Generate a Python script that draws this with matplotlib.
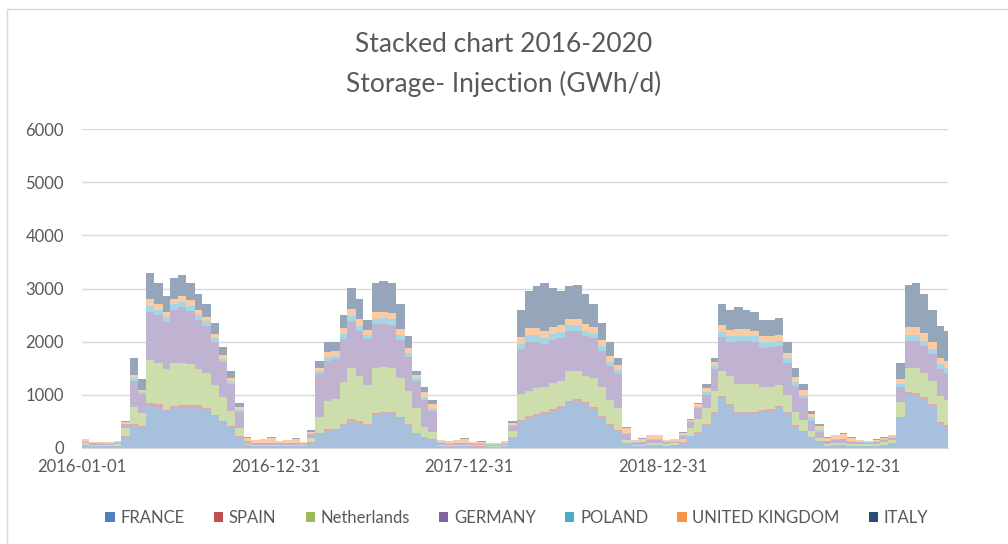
import numpy as np
import pandas as pd
import matplotlib
matplotlib.use("Agg")
import matplotlib.pyplot as plt
import matplotlib.dates as mdates
from matplotlib.patches import Patch, Rectangle

# ---- data: semi-monthly averages (GWh/d) ----
period_start = "2016-01-01"
period_last = "2020-06-15"
data_end = "2020-06-22"

series_names = ["FRANCE", "SPAIN", "Netherlands", "GERMANY", "POLAND",
                "UNITED KINGDOM", "ITALY"]

france = [45, 30, 30, 30, 40, 200, 420, 380, 800, 780, 680, 750, 760, 760, 760, 720, 600, 480, 380, 200, 40, 30, 30, 30,
          30, 30, 35, 30, 100, 260, 325, 330, 420, 510, 470, 420, 620, 650, 640, 560, 420, 260, 200, 150, 30, 25, 30, 30,
          25, 25, 20, 20, 30, 200, 500, 575, 610, 640, 700, 760, 860, 890, 830, 740, 575, 430, 325, 80, 30, 35, 50, 50,
          40, 45, 100, 220, 280, 430, 650, 940, 800, 650, 640, 640, 680, 700, 760, 640, 400, 300, 200, 120, 40, 50, 55, 40,
          40, 35, 40, 60, 80, 560, 1010, 1000, 920, 800, 450, 400]
spain = [5, 5, 5, 5, 5, 20, 30, 30, 40, 40, 30, 40, 40, 40, 40, 40, 30, 30, 25, 20, 10, 5, 5, 5,
         5, 5, 5, 5, 10, 20, 25, 25, 30, 30, 30, 30, 30, 30, 30, 30, 25, 20, 15, 15, 5, 5, 5, 5,
         5, 5, 5, 5, 5, 15, 30, 30, 30, 30, 30, 30, 30, 30, 30, 30, 25, 25, 20, 10, 5, 5, 5, 5,
         5, 5, 10, 15, 20, 25, 30, 30, 30, 30, 30, 30, 30, 30, 30, 30, 25, 20, 15, 10, 5, 5, 5, 5,
         5, 5, 5, 5, 10, 30, 40, 40, 40, 30, 30, 30]
netherlands = [45, 30, 25, 25, 30, 150, 330, 250, 820, 780, 780, 800, 800, 780, 680, 650, 560, 450, 300, 150, 30, 20, 20, 20,
               20, 20, 20, 20, 80, 295, 540, 560, 800, 970, 850, 730, 860, 840, 840, 730, 620, 480, 180, 130, 20, 20, 20, 20,
               20, 20, 15, 15, 20, 100, 480, 470, 480, 470, 500, 470, 560, 530, 500, 540, 540, 450, 415, 60, 20, 25, 35, 35,
               30, 35, 60, 150, 250, 300, 400, 470, 520, 520, 530, 530, 430, 420, 400, 330, 250, 200, 100, 60, 30, 35, 40, 30,
               30, 30, 35, 45, 55, 270, 460, 470, 450, 430, 500, 480]
germany = [25, 20, 20, 20, 25, 80, 480, 350, 900, 900, 880, 1000, 1050, 1000, 920, 880, 800, 650, 500, 300, 50, 30, 30, 30,
           30, 30, 30, 25, 80, 815, 750, 750, 800, 880, 850, 870, 820, 820, 810, 720, 640, 500, 500, 400, 40, 30, 30, 30,
           25, 25, 20, 20, 25, 100, 850, 925, 880, 810, 810, 815, 750, 750, 750, 750, 685, 630, 630, 120, 40, 45, 60, 60,
           30, 35, 60, 100, 200, 250, 400, 640, 650, 810, 810, 800, 750, 750, 730, 600, 500, 420, 200, 120, 50, 60, 60, 45,
           30, 30, 35, 40, 45, 280, 500, 500, 500, 500, 500, 500]
poland = [10, 10, 10, 10, 10, 10, 50, 40, 120, 100, 90, 110, 100, 100, 100, 90, 80, 70, 60, 40, 10, 10, 10, 10,
          10, 10, 10, 10, 10, 60, 70, 70, 90, 100, 100, 80, 100, 100, 100, 90, 80, 50, 50, 40, 10, 10, 10, 10,
          10, 10, 10, 10, 10, 15, 100, 120, 120, 120, 110, 110, 110, 110, 100, 100, 100, 90, 80, 20, 10, 10, 15, 15,
          10, 10, 10, 15, 30, 50, 60, 100, 100, 100, 100, 100, 100, 100, 100, 90, 70, 60, 40, 20, 10, 10, 15, 10,
          10, 10, 10, 10, 15, 60, 120, 120, 110, 110, 100, 100]
united_kingdom = [30, 20, 15, 25, 25, 20, 70, 50, 120, 100, 90, 100, 100, 100, 100, 80, 80, 70, 60, 60, 50, 50, 70, 100,
                  30, 50, 75, 25, 30, 60, 90, 90, 110, 130, 120, 90, 120, 120, 120, 110, 100, 70, 100, 100, 40, 35, 50, 80,
                  30, 35, 20, 25, 35, 40, 120, 130, 130, 130, 120, 120, 120, 120, 120, 110, 110, 100, 100, 80, 45, 55, 75, 75,
                  30, 35, 50, 30, 40, 70, 80, 130, 120, 120, 120, 110, 110, 110, 110, 100, 90, 90, 90, 90, 60, 80, 95, 65,
                  30, 25, 30, 35, 35, 100, 150, 150, 140, 130, 120, 120]
italy = [10, 5, 5, 5, 5, 20, 320, 200, 500, 400, 300, 400, 400, 320, 300, 240, 200, 150, 125, 80, 10, 5, 5, 5,
         5, 5, 5, 5, 20, 130, 200, 175, 250, 380, 380, 180, 550, 590, 560, 460, 215, 70, 105, 65, 5, 5, 5, 5,
         5, 5, 5, 5, 5, 30, 520, 700, 800, 900, 730, 645, 620, 645, 570, 430, 315, 275, 130, 30, 5, 5, 10, 10,
         5, 5, 10, 20, 30, 75, 80, 390, 380, 420, 370, 340, 300, 290, 320, 210, 165, 110, 55, 30, 5, 10, 10, 5,
         5, 5, 5, 5, 10, 300, 795, 820, 740, 600, 600, 570]

x_tick_dates = ["2016-01-01", "2016-12-31", "2017-12-31", "2018-12-31", "2019-12-31"]

# ---- styling ----
base_colors = ["#4F81BD", "#C0504D", "#9BBB59", "#8064A2", "#4BACC6", "#F79646", "#2C4D75"]


def blend(hexcol, a=0.5):
    r, g, b = matplotlib.colors.to_rgb(hexcol)
    return (1 - a + a * r, 1 - a + a * g, 1 - a + a * b)


fill_colors = [blend(c) for c in base_colors]
text_col = "#595959"
grid_col = "#D9D9D9"

plt.rcParams["font.family"] = ["Lato", "DejaVu Sans"]

fig = plt.figure(figsize=(10.08, 5.44), dpi=100)
ax = fig.add_axes([82 / 1008, 1 - 448 / 544, (948 - 82) / 1008, (448 - 129) / 544])

starts = pd.date_range(period_start, period_last, freq="SMS")
xs = mdates.date2num(starts.to_pydatetime())
x_end = mdates.date2num(pd.Timestamp(data_end).to_pydatetime())
widths = np.diff(np.append(xs, x_end))

all_series = [france, spain, netherlands, germany, poland, united_kingdom, italy]
bottom = np.zeros(len(xs))
for vals, col in zip(all_series, fill_colors):
    vals = np.asarray(vals, dtype=float)
    ax.bar(xs, vals, width=widths, bottom=bottom, align="edge", color=col,
           linewidth=0, zorder=2)
    bottom += vals

ax.set_xlim(xs[0], x_end)
ax.set_ylim(0, 6000)
ax.set_yticks(range(0, 7000, 1000))
ax.yaxis.grid(True, color=grid_col, linewidth=1.0, zorder=0)
ax.set_axisbelow(True)
ticks = mdates.date2num([pd.Timestamp(d).to_pydatetime() for d in x_tick_dates])
ax.set_xticks(ticks)
ax.set_xticklabels(x_tick_dates)
for s in ["top", "right", "left"]:
    ax.spines[s].set_visible(False)
ax.spines["bottom"].set_color(grid_col)
ax.tick_params(axis="both", length=0, labelsize=12, labelcolor=text_col)
ax.tick_params(axis="y", pad=13)
ax.tick_params(axis="x", pad=8)

fig.text(0.5, 1 - 45 / 544, "Stacked chart 2016-2020", ha="center", va="center",
         fontsize=19, color=text_col)
fig.text(0.5, 1 - 84 / 544, "Storage- Injection (GWh/d)", ha="center", va="center",
         fontsize=19, color=text_col)

handles = [Patch(facecolor=c, edgecolor="none") for c in base_colors]
fig.legend(handles, series_names, loc="center", bbox_to_anchor=(517 / 1008, 1 - 518 / 544),
           ncol=7, frameon=False, handlelength=0.55, handleheight=0.55,
           handletextpad=0.35, columnspacing=1.75, fontsize=12, labelcolor=text_col)

fig.patches.append(Rectangle((7 / 1008, -0.02), 1.05, 1 - 9 / 544 + 0.02,
                             transform=fig.transFigure, fill=False,
                             edgecolor=grid_col, linewidth=1))

fig.savefig("out.png", dpi=100)
